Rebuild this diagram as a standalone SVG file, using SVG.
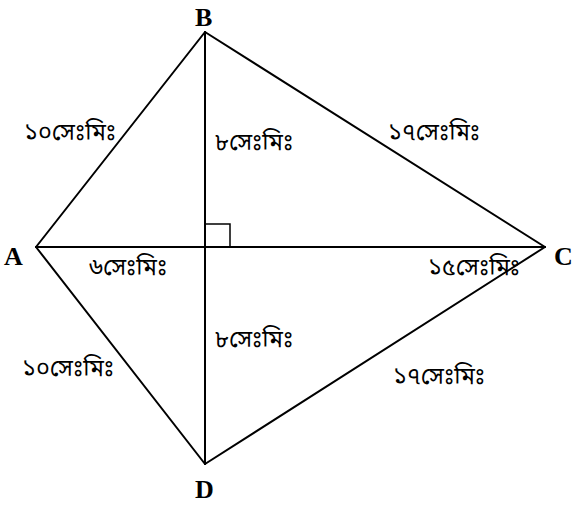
<svg xmlns="http://www.w3.org/2000/svg" width="576" height="506" viewBox="0 0 576 506">
<style>
.edge{stroke:#000;stroke-width:2;fill:none;stroke-linecap:round;stroke-linejoin:miter}
.thin{stroke:#000;stroke-width:1.5;fill:none}
.lbl{font-family:"Noto Sans Bengali","Noto Serif Bengali","Lohit Bengali","FreeSerif","Noto Sans",sans-serif;font-size:23.5px;fill:#000}
.pt{font-family:"Liberation Serif","Times New Roman",serif;font-weight:bold;font-size:26px;fill:#000}
</style>
<rect width="576" height="506" fill="#fff"/>
<g id="connectors">
<line class="edge" x1="36" y1="247" x2="205" y2="32"/>
<line class="edge" x1="205" y1="32" x2="545" y2="247"/>
<line class="edge" x1="545" y1="247" x2="205" y2="464"/>
<line class="edge" x1="205" y1="464" x2="36" y2="247"/>
<line class="edge" x1="36" y1="247" x2="545" y2="247"/>
<line class="edge" x1="205" y1="32" x2="205" y2="464"/>
<polyline class="thin" points="205,224 230,224 230,247"/>
</g>
<g id="A"><text class="pt" x="4" y="265">A</text></g>
<g id="B"><text class="pt" x="195" y="26">B</text></g>
<g id="C"><text class="pt" x="554" y="265">C</text></g>
<g id="D"><text class="pt" x="195" y="498">D</text></g>
<g id="labels">
<text class="lbl" x="24" y="140">১০সেঃমিঃ</text>
<text class="lbl" x="215" y="150">৮সেঃমিঃ</text>
<text class="lbl" x="388" y="140">১৭সেঃমিঃ</text>
<text class="lbl" x="89" y="275">৬সেঃমিঃ</text>
<text class="lbl" x="428" y="275">১৫সেঃমিঃ</text>
<text class="lbl" x="215" y="347">৮সেঃমিঃ</text>
<text class="lbl" x="22" y="376">১০সেঃমিঃ</text>
<text class="lbl" x="393" y="384">১৭সেঃমিঃ</text>
</g>
</svg>
